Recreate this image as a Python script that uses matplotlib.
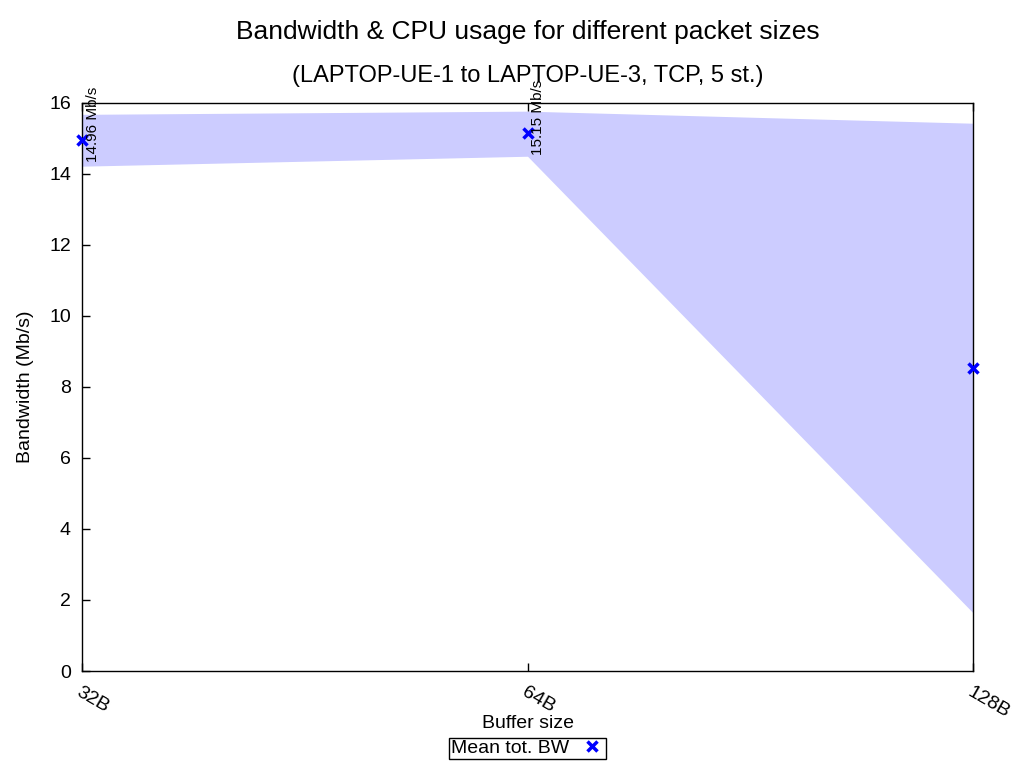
import numpy as np
import matplotlib
matplotlib.use("Agg")
import matplotlib.pyplot as plt

plt.rcParams['font.family'] = ['Liberation Sans', 'DejaVu Sans']

sizes = ["32B", "64B", "128B"]
bw_mean = [14.96, 15.15, 8.53]
bw_low = [14.22, 14.50, 1.64]
bw_high = [15.68, 15.77, 15.43]
bw_labels = ["14.96 Mb/s", "15.15 Mb/s"]

fig = plt.figure(figsize=(10.24, 7.68), dpi=100)
ax = fig.add_axes([0.0801, 0.1263, 0.8701, 0.7396])

x = np.arange(len(sizes))
ax.fill_between(x, bw_low, bw_high, color="#ccccff", linewidth=0, zorder=1)
ax.plot(x, bw_mean, linestyle="none", marker="x", color="#0000ff",
        markersize=7, markeredgewidth=2.5, label="Mean tot. BW", zorder=3, clip_on=False)

for i, lab in enumerate(bw_labels):
    ax.text(x[i] + 0.008, bw_mean[i] - 0.62, lab, rotation=90, fontsize=11,
            ha="left", va="bottom")

ax.set_xlim(0, 2)
ax.set_ylim(0, 16)
ax.set_yticks(range(0, 17, 2))
ax.set_xticks(x)
ax.set_xticklabels(sizes, rotation=-30, ha="left", va="top", rotation_mode="anchor")
ax.tick_params(axis="both", direction="in", labelsize=14, length=6, width=1)
ax.tick_params(axis="x", top=True, pad=9)
ax.tick_params(axis="y", right=False, pad=8)
for s in ax.spines.values():
    s.set_linewidth(1.0)

ax.set_xlabel("Buffer size", fontsize=14, labelpad=-4)
ax.set_ylabel("Bandwidth (Mb/s)", fontsize=14, labelpad=11)

cx = 0.515
fig.text(cx, 0.9585, "Bandwidth & CPU usage for different packet sizes",
         ha="center", va="center", fontsize=19)
fig.text(cx, 0.901, "(LAPTOP-UE-1 to LAPTOP-UE-3, TCP, 5 st.)",
         ha="center", va="center", fontsize=17)

leg = ax.legend(loc="center", bbox_to_anchor=(0.5, -0.1364), markerfirst=False,
                fontsize=14, frameon=True, fancybox=False, framealpha=1,
                edgecolor="black", borderpad=0.1, handletextpad=0.6,
                handlelength=1.2, borderaxespad=0)
leg.get_frame().set_linewidth(1.0)

fig.savefig("out.png", dpi=100)
